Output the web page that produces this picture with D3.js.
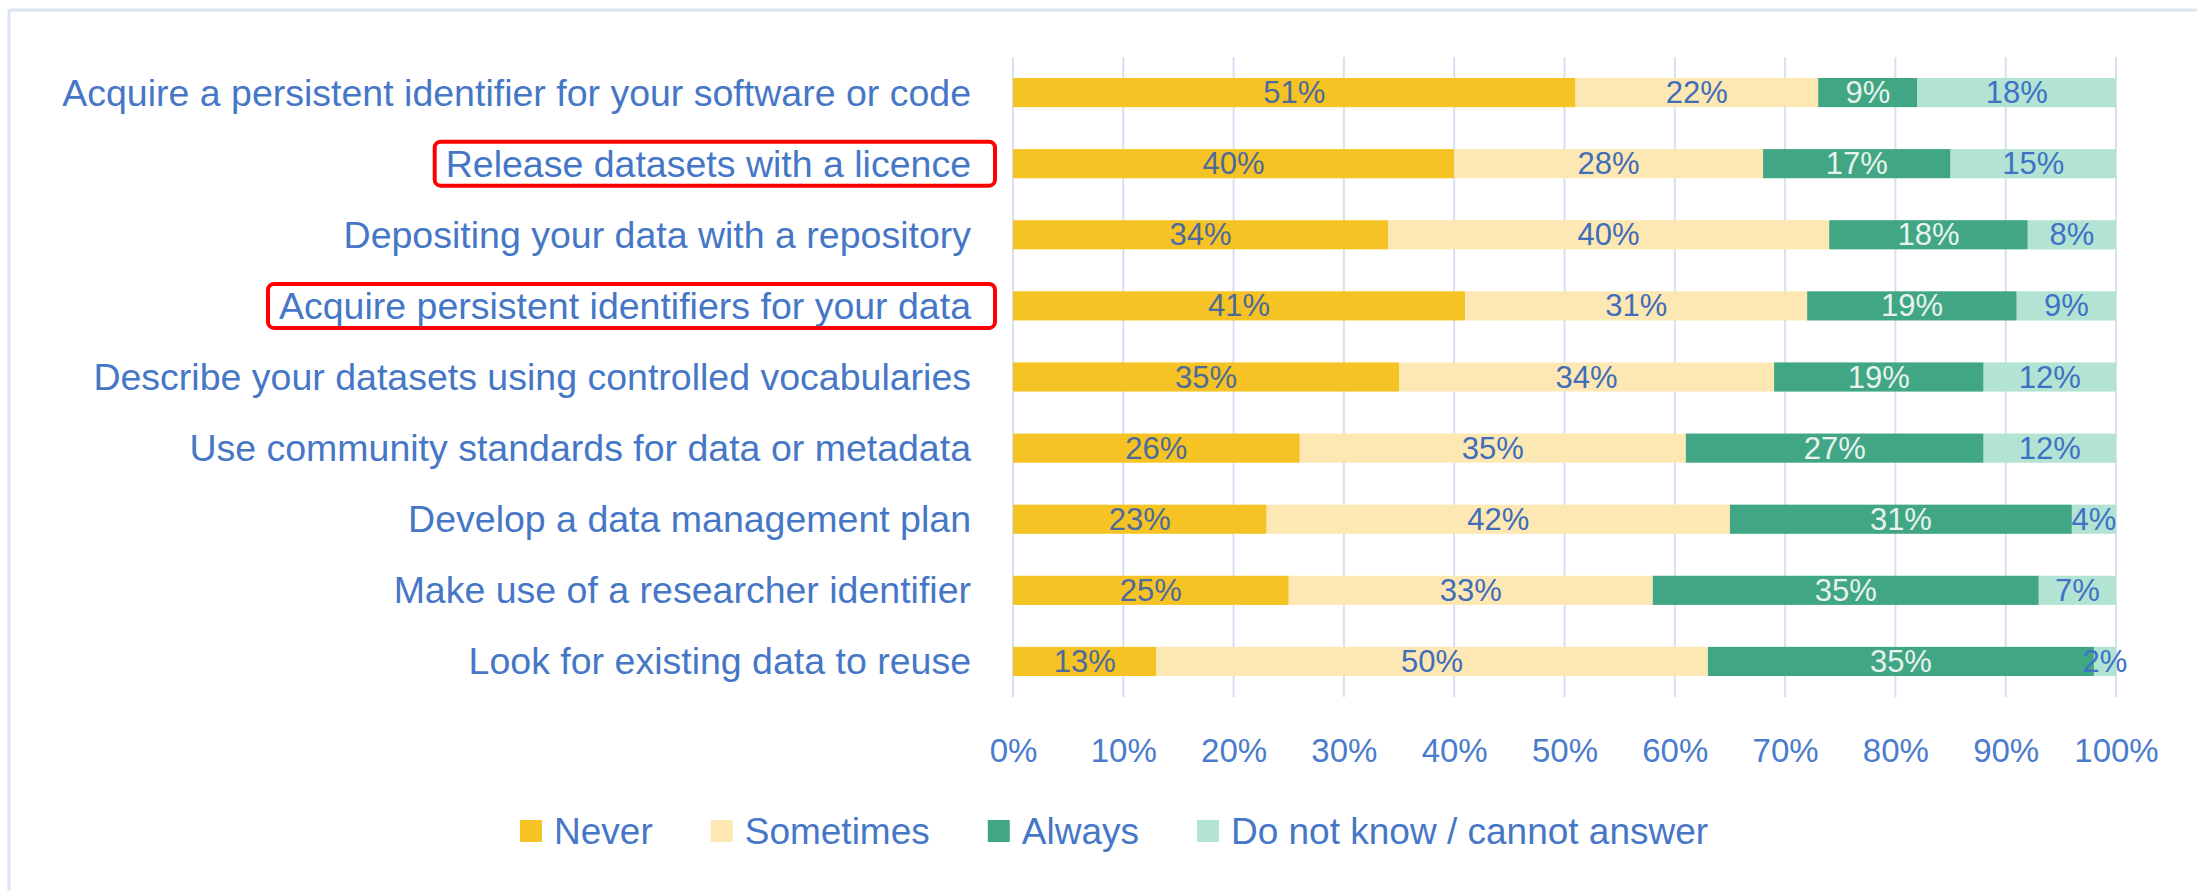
<!DOCTYPE html>
<html>
<head>
<meta charset="utf-8">
<script src="https://cdn.jsdelivr.net/npm/d3@7"></script>
<style>
  body { margin: 0; background: #ffffff; }
  svg { display: block; font-family: "Liberation Sans", Arial, sans-serif; }
</style>
</head>
<body>
<script>
// survey answers, share of respondents (%)
var categories = [
  "Acquire a persistent identifier for your software or code",
  "Release datasets with a licence",
  "Depositing your data with a repository",
  "Acquire persistent identifiers for your data",
  "Describe your datasets using controlled vocabularies",
  "Use community standards for data or metadata",
  "Develop a data management plan",
  "Make use of a researcher identifier",
  "Look for existing data to reuse"
];
var never     = [51, 40, 34, 41, 35, 26, 23, 25, 13];
var sometimes = [22, 28, 40, 31, 34, 35, 42, 33, 50];
var always    = [ 9, 17, 18, 19, 19, 27, 31, 35, 35];
var dontKnow  = [18, 15,  8,  9, 12, 12,  4,  7,  2];
var seriesNames = ["Never", "Sometimes", "Always", "Do not know / cannot answer"];
var xTicks = [0, 10, 20, 30, 40, 50, 60, 70, 80, 90, 100];
var highlighted = ["Release datasets with a licence", "Acquire persistent identifiers for your data"];

var W = 2197, H = 891;
var colors = ["#f6c325", "#fde8b3", "#40a683", "#b3e3d2"];
var valueColors = ["#4d6a9a", "#3f6db9", "#e8f3ee", "#3d72c6"];

var keys = ["never", "sometimes", "always", "dontKnow"];
var rows = categories.map(function (c, i) {
  return {cat: c, never: never[i], sometimes: sometimes[i], always: always[i], dontKnow: dontKnow[i]};
});

var svg = d3.select("body").append("svg").attr("width", W).attr("height", H);

// faint frame on the top and left
svg.append("line").attr("x1", 9).attr("x2", W).attr("y1", 10).attr("y2", 10)
  .attr("stroke", "#dbe4f3").attr("stroke-width", 3);
svg.append("line").attr("x1", 9).attr("x2", 9).attr("y1", 10).attr("y2", H)
  .attr("stroke", "#dbe4f3").attr("stroke-width", 3);

var xScale = d3.scaleLinear().domain([0, 100]).range([1013, 2116]);
var yScale = d3.scaleBand().domain(categories).range([57, 697])
  .paddingInner(0.59).paddingOuter(0.295);

// gridlines
svg.append("g").selectAll("line").data(xTicks).enter().append("line")
  .attr("x1", function (d) { return xScale(d); })
  .attr("x2", function (d) { return xScale(d); })
  .attr("y1", 57).attr("y2", 697)
  .attr("stroke", "#d7e0f0").attr("stroke-width", 2);

var stack = d3.stack().keys(keys);
var layers = stack(rows);

var g = svg.append("g");
layers.forEach(function (layer, k) {
  var lg = g.append("g");
  lg.selectAll("rect").data(layer).enter().append("rect")
    .attr("x", function (d) { return xScale(d[0]); })
    .attr("width", function (d) { return xScale(d[1]) - xScale(d[0]); })
    .attr("y", function (d) { return yScale(d.data.cat); })
    .attr("height", yScale.bandwidth())
    .attr("fill", colors[k]);
  lg.selectAll("text").data(layer).enter().append("text")
    .attr("x", function (d) { return (xScale(d[0]) + xScale(d[1])) / 2; })
    .attr("y", function (d) { return yScale(d.data.cat) + yScale.bandwidth() / 2; })
    .attr("text-anchor", "middle")
    .attr("dominant-baseline", "central")
    .style("font-size", "31px")
    .attr("fill", valueColors[k])
    .text(function (d) { return (d[1] - d[0]) + "%"; });
});

// category labels
var labels = svg.append("g").selectAll("text").data(categories).enter().append("text")
  .attr("x", 971)
  .attr("y", function (d) { return yScale(d) + yScale.bandwidth() / 2; })
  .attr("text-anchor", "end")
  .attr("dominant-baseline", "central")
  .style("font-size", "37.5px")
  .attr("fill", "#4677c6")
  .text(function (d) { return d; });

// red boxes around the two highlighted labels
labels.filter(function (d) { return highlighted.indexOf(d) >= 0; }).each(function (d) {
  var bb = this.getBBox();
  var cy = yScale(d) + yScale.bandwidth() / 2;
  svg.append("rect")
    .attr("x", bb.x - 11).attr("y", cy - 22)
    .attr("width", 995 - (bb.x - 11)).attr("height", 44)
    .attr("rx", 6).attr("ry", 6)
    .attr("fill", "none").attr("stroke", "#ff0000").attr("stroke-width", 4);
});

// x axis tick labels
var xAxis = d3.axisBottom(xScale).tickValues(xTicks)
  .tickFormat(function (d) { return d + "%"; }).tickSize(0).tickPadding(0);
var ax = svg.append("g").attr("transform", "translate(0,750)").call(xAxis);
ax.select(".domain").remove();
ax.selectAll("text")
  .attr("y", 0).attr("dy", null)
  .attr("dominant-baseline", "central")
  .style("font-size", "33px")
  .style("font-family", "'Liberation Sans', Arial, sans-serif")
  .attr("fill", "#4a7ccb");

// legend
var legend = svg.append("g").attr("transform", "translate(520,831)");
var lx = 0;
seriesNames.forEach(function (name, k) {
  var item = legend.append("g").attr("transform", "translate(" + lx + ",0)");
  item.append("rect").attr("x", 0).attr("y", -11).attr("width", 22).attr("height", 22).attr("fill", colors[k]);
  var t = item.append("text").attr("x", 34).attr("y", 0)
    .attr("dominant-baseline", "central")
    .style("font-size", "37px")
    .attr("fill", "#4677c6")
    .text(name);
  lx += 34 + t.node().getComputedTextLength() + 58;
});
</script>
</body>
</html>
